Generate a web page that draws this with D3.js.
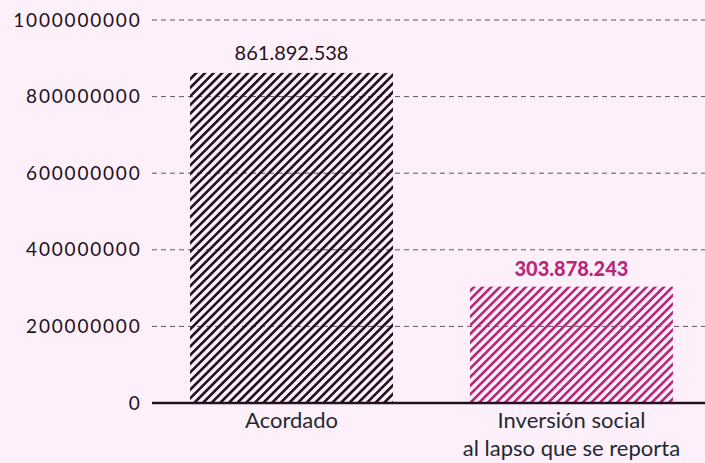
<!DOCTYPE html>
<html>
<head>
<meta charset="utf-8">
<script src="https://cdn.jsdelivr.net/npm/d3@7"></script>
<style>
  html, body { margin: 0; padding: 0; background: #fdf0fb; }
  svg { display: block; font-family: Lato, "Open Sans", sans-serif; }
</style>
</head>
<body>
<div id="chart"></div>
<script>
// data
var categories = ["Acordado", "Inversión social\nal lapso que se reporta"];
var values = [861892538, 303878243];
var valueLabels = ["861.892.538", "303.878.243"];
var yTicks = [0, 200000000, 400000000, 600000000, 800000000, 1000000000];

var width = 705, height = 463;
var dark = "#241020", pink = "#b8287a";

var svg = d3.select("#chart").append("svg")
    .attr("width", width)
    .attr("height", height);

//stripe patterns
var defs = svg.append("defs");
function stripes(id, col, sw) {
  var s = 6.1;
  var p = defs.append("pattern")
      .attr("id", id)
      .attr("patternUnits", "userSpaceOnUse")
      .attr("width", s)
      .attr("height", s)
      .attr("patternTransform", "rotate(45)");
  p.append("rect")
      .attr("x", 0).attr("y", 0)
      .attr("width", sw).attr("height", s)
      .attr("fill", col)
      .attr("shape-rendering", "crispEdges");
}
stripes("hatchDark", dark, 3.0);
stripes("hatchPink", pink, 2.6);

var x = d3.scaleBand()
    .domain(categories)
    .range([152, 711])
    .paddingInner(0.275)
    .paddingOuter(0.136);

var y = d3.scaleLinear()
    .domain([0, 1000000000])
    .range([403, 20]);

//grid lines
svg.append("g")
  .selectAll("line")
  .data(yTicks.slice(1))
  .enter().append("line")
    .attr("x1", 152)
    .attr("x2", width)
    .attr("y1", function(d){ return y(d); })
    .attr("y2", function(d){ return y(d); })
    .attr("stroke", "#5e5460")
    .attr("stroke-width", 1)
    .attr("stroke-dasharray", "5,4");

//tick labels
svg.append("g")
  .selectAll("text")
  .data(yTicks)
  .enter().append("text")
    .attr("x", 141.5)
    .attr("y", function(d){ return y(d); })
    .attr("dy", "0.35em")
    .attr("text-anchor", "end")
    .attr("fill", dark)
    .style("font-size", "19px")
    .style("letter-spacing", "1.8px")
    .text(function(d){ return d; });

//bars
svg.append("g")
  .selectAll("rect")
  .data(values)
  .enter().append("rect")
    .attr("x", function(d, i){ return x(categories[i]); })
    .attr("width", x.bandwidth())
    .attr("y", function(d){ return y(d); })
    .attr("height", function(d){ return y(0) - y(d); })
    .attr("fill", function(d, i){ return i == 0 ? "url(#hatchDark)" : "url(#hatchPink)"; });

//value labels
svg.append("g")
  .selectAll("text")
  .data(values)
  .enter().append("text")
    .attr("x", function(d, i){ return x(categories[i]) + x.bandwidth() / 2; })
    .attr("y", function(d, i){ return y(d) - (i == 0 ? 13 : 11); })
    .attr("text-anchor", "middle")
    .attr("fill", function(d, i){ return i == 0 ? dark : pink; })
    .style("font-size", "20px")
    .style("font-weight", function(d, i){ return i == 0 ? 400 : 900; })
    .text(function(d, i){ return valueLabels[i]; });

//baseline
svg.append("line")
    .attr("x1", 152)
    .attr("x2", width)
    .attr("y1", y(0))
    .attr("y2", y(0))
    .attr("stroke", dark)
    .attr("stroke-width", 2.5);

//category labels
var cat = svg.append("g")
  .selectAll("text")
  .data(categories)
  .enter().append("text")
    .attr("text-anchor", "middle")
    .attr("fill", "#1f2a30")
    .style("font-size", "22px");
cat.each(function(d){
  var t = d3.select(this);
  d.split("\n").forEach(function(line, k){
    t.append("tspan")
      .attr("x", x(d) + x.bandwidth() / 2)
      .attr("y", 428 + k * 28)
      .text(line);
  });
});
</script>
</body>
</html>
